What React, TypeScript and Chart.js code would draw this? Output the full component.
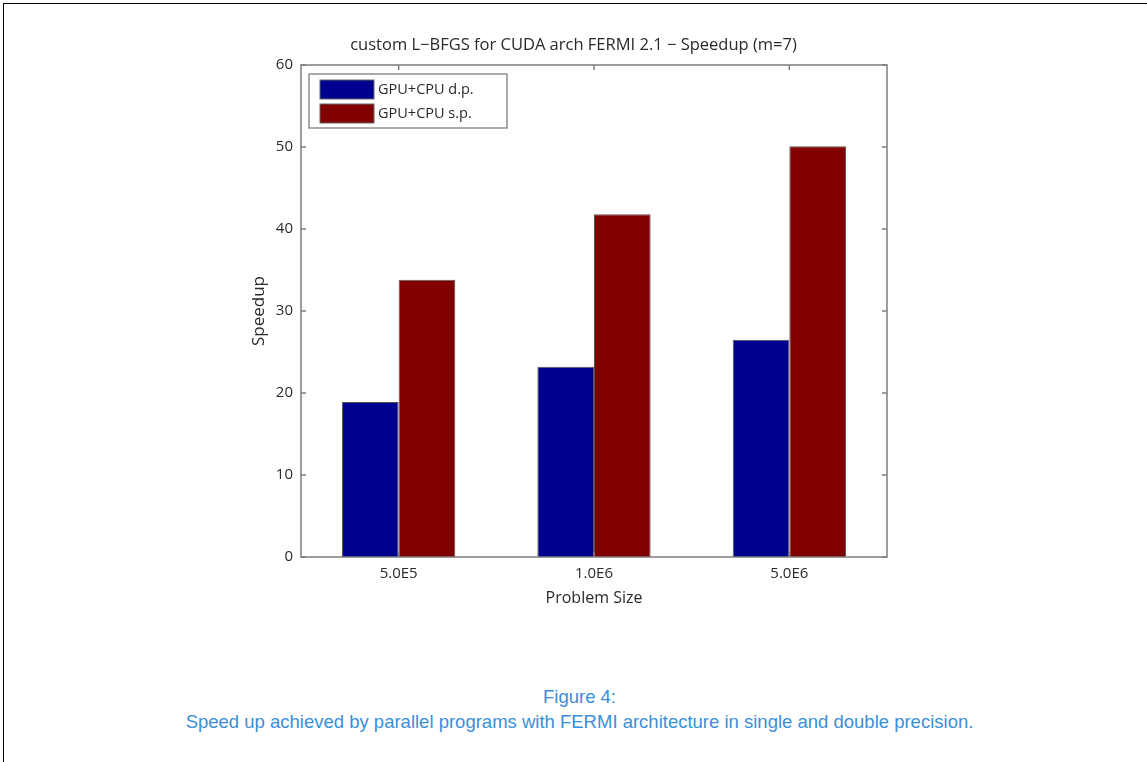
import React, { useEffect, useRef } from "react";
import { Chart, registerables } from "chart.js";

Chart.register(...registerables);

const categories = ["5.0E5", "1.0E6", "5.0E6"];
const dpValues = [18.9, 23.2, 26.5];
const spValues = [33.8, 41.8, 50.1];
const seriesLabels = ["GPU+CPU d.p.", "GPU+CPU s.p."];
const seriesColors = ["#00008f", "#800000"];
const chartTitle = "custom L\u2212BFGS for CUDA arch FERMI 2.1 \u2212 Speedup (m=7)";
const xTitle = "Problem Size";
const yTitle = "Speedup";
const captionLines = [
  "Figure 4:",
  "Speed up achieved by parallel programs with FERMI architecture in single and double precision.",
];

const FONT = "'Open Sans', 'Noto Sans', sans-serif";
const AXIS_COLOR = "#7d7d7d";
const TEXT_COLOR = "#2a2a2a";

const matlabFrame = {
  id: "matlabFrame",
  afterDatasetsDraw(chart: any) {
    const { ctx, chartArea, scales } = chart;
    const { left, right, top, bottom } = chartArea;
    ctx.save();
    ctx.strokeStyle = AXIS_COLOR;
    ctx.lineWidth = 1.5;
    ctx.strokeRect(left, top, right - left, bottom - top);
    const tl = 5;
    ctx.beginPath();
    scales.y.ticks.forEach((t: any) => {
      const y = scales.y.getPixelForValue(t.value);
      ctx.moveTo(left, y);
      ctx.lineTo(left + tl, y);
      ctx.moveTo(right, y);
      ctx.lineTo(right - tl, y);
    });
    categories.forEach((_, i) => {
      const x = scales.x.getPixelForValue(i);
      ctx.moveTo(x, bottom);
      ctx.lineTo(x, bottom - tl);
      ctx.moveTo(x, top);
      ctx.lineTo(x, top + tl);
    });
    ctx.stroke();

    // title (centred on the whole figure, as in the source)
    ctx.fillStyle = TEXT_COLOR;
    ctx.font = `16.5px ${FONT}`;
    ctx.textAlign = "center";
    ctx.textBaseline = "middle";
    ctx.fillText(chartTitle, chart.width / 2, 45);

    // legend box
    const bx = left + 8;
    const by = top + 9;
    const bw = 198;
    const bh = 54;
    ctx.fillStyle = "#ffffff";
    ctx.fillRect(bx, by, bw, bh);
    ctx.strokeStyle = AXIS_COLOR;
    ctx.lineWidth = 1.3;
    ctx.strokeRect(bx, by, bw, bh);
    ctx.font = `14.5px ${FONT}`;
    ctx.textBaseline = "middle";
    ctx.textAlign = "left";
    seriesLabels.forEach((lab, i) => {
      const sy = by + 6 + i * 24;
      ctx.fillStyle = seriesColors[i];
      ctx.fillRect(bx + 11, sy, 54, 19);
      ctx.strokeStyle = "#666";
      ctx.lineWidth = 1;
      ctx.strokeRect(bx + 11, sy, 54, 19);
      ctx.fillStyle = TEXT_COLOR;
      ctx.fillText(lab, bx + 69, sy + 10);
    });
    ctx.restore();
  },
};

function ChartView() {
  const ref = useRef<HTMLCanvasElement | null>(null);
  useEffect(() => {
    if (!ref.current) return;
    const chart = new Chart(ref.current, {
      type: "bar",
      data: {
        labels: categories,
        datasets: [
          {
            label: seriesLabels[0],
            data: dpValues,
            backgroundColor: seriesColors[0],
            borderColor: "#555",
            borderWidth: 1,
          },
          {
            label: seriesLabels[1],
            data: spValues,
            backgroundColor: seriesColors[1],
            borderColor: "#555",
            borderWidth: 1,
          },
        ],
      },
      options: {
        responsive: false,
        animation: false,
        layout: { padding: { left: 241, right: 260, top: 65, bottom: 23 } },
        datasets: { bar: { categoryPercentage: 0.58, barPercentage: 1 } },
        plugins: {
          legend: { display: false },
          tooltip: { enabled: false },
          title: { display: false },
        },
        scales: {
          x: {
            grid: { display: false, drawTicks: false },
            border: { display: false },
            ticks: {
              color: TEXT_COLOR,
              font: { family: FONT, size: 15 },
              padding: 8,
            },
            title: {
              display: true,
              text: xTitle,
              color: TEXT_COLOR,
              font: { family: FONT, size: 16 },
              padding: { top: 0, bottom: 9 },
            },
            afterFit: (s: any) => {
              s.height = 60;
            },
          },
          y: {
            min: 0,
            max: 60,
            grid: { display: false, drawTicks: false },
            border: { display: false },
            ticks: {
              stepSize: 10,
              color: TEXT_COLOR,
              font: { family: FONT, size: 15 },
              padding: 8,
            },
            title: {
              display: true,
              text: yTitle,
              color: TEXT_COLOR,
              font: { family: FONT, size: 17 },
              padding: { top: 8, bottom: 0 },
            },
            afterFit: (s: any) => {
              s.width = 60;
            },
          },
        },
      },
      plugins: [matlabFrame],
    });
    return () => chart.destroy();
  }, []);
  return (
    <canvas
      ref={ref}
      width={1147}
      height={640}
      style={{ position: "absolute", left: 0, top: 0, width: 1147, height: 640 }}
    />
  );
}

export default function App() {
  return (
    <div
      style={{
        position: "fixed",
        left: 0,
        top: 0,
        width: 1147,
        height: 762,
        background: "#fff",
        overflow: "hidden",
      }}
    >
      <div
        style={{
          position: "absolute",
          left: 3,
          top: 3,
          width: 1200,
          height: 800,
          borderLeft: "1.5px solid #000",
          borderTop: "1.5px solid #000",
        }}
      />
      <ChartView />
      {captionLines.map((line, i) => (
        <div
          key={i}
          style={{
            position: "absolute",
            left: 6,
            width: 1147,
            top: 686 + i * 25,
            textAlign: "center",
            fontFamily: "'Liberation Sans', Arial, sans-serif",
            fontSize: 18.5,
            lineHeight: "22px",
            color: "#3a8fd8",
            whiteSpace: "nowrap",
          }}
        >
          {line}
        </div>
      ))}
    </div>
  );
}
